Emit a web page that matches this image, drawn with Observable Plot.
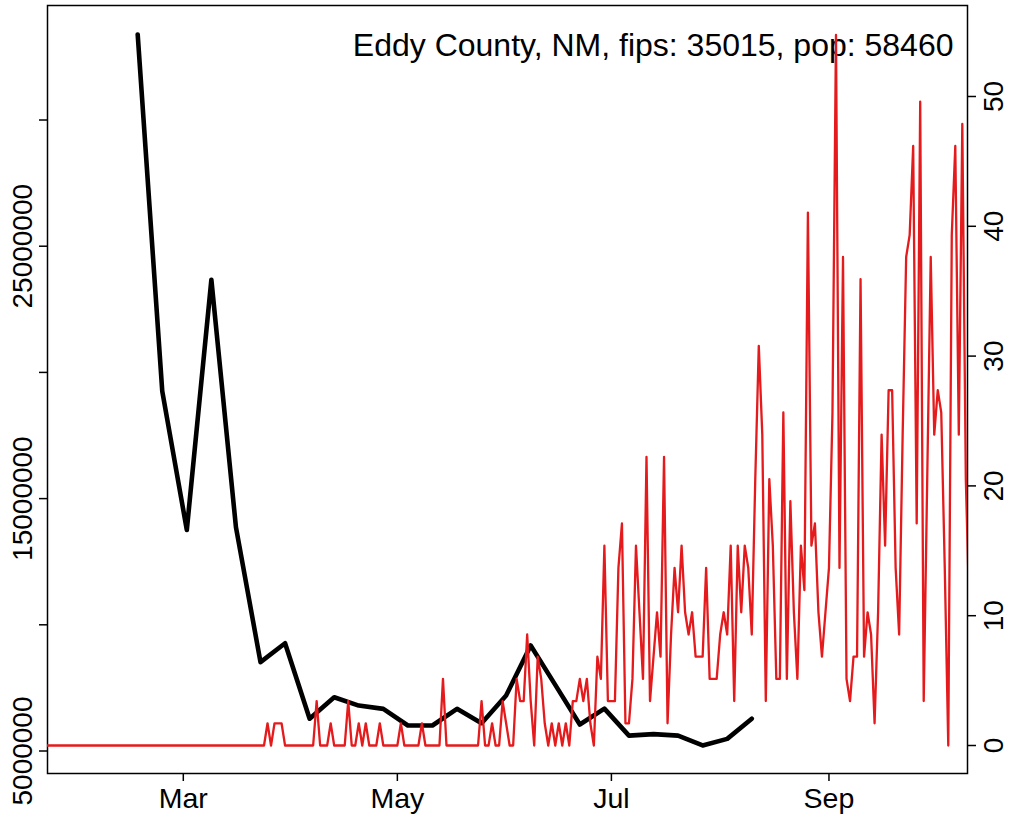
<!DOCTYPE html>
<html><head><meta charset="utf-8">
<script src="https://cdn.jsdelivr.net/npm/d3@7"></script>
<script src="https://cdn.jsdelivr.net/npm/@observablehq/plot@0.6"></script>
<style>
html,body{margin:0;padding:0;background:#fff;overflow:hidden;}
#chart{position:relative;width:1015px;height:822px;}
#chart svg{position:absolute;left:0;top:0;}
</style></head><body><div id="chart"></div>
<script>
// ---- data ----
const titleText = "Eddy County, NM, fips: 35015, pop: 58460";
const population = 58460;

const weekDates = ["2020-02-17","2020-02-24","2020-03-02","2020-03-09","2020-03-16","2020-03-23","2020-03-30",
  "2020-04-06","2020-04-13","2020-04-20","2020-04-27","2020-05-04","2020-05-11","2020-05-18","2020-05-25",
  "2020-06-01","2020-06-08","2020-06-15","2020-06-22","2020-06-29","2020-07-06","2020-07-13","2020-07-20",
  "2020-07-27","2020-08-03","2020-08-10"];
const weekValues = [33390000,19260000,13760000,23670000,13870000,8520000,9270000,6280000,7130000,6800000,
  6670000,6010000,6010000,6670000,6100000,7200000,9180000,7620000,6050000,6680000,5610000,5670000,5610000,
  5220000,5480000,6280000];

const dailyStart = "2020-01-22";
const dailyCases = [
  0,0,0,0,0,0,0,0,0,0, 0,0,0,0,0,0,0,0,0,0, 0,0,0,0,0,0,0,0,0,0,
  0,0,0,0,0,0,0,0,0,0, 0,0,0,0,0,0,0,0,0,0, 0,0,0,0,0,0,0,0,0,0,
  0,0,0,1,0,1,1,1,0,0, 0,0,0,0,0,0,0,2,0,0, 0,1,0,0,0,0,2,0,0,1,
  0,1,0,0,0,1,0,0,0,0, 0,1,0,0,0,0,0,1,0,0, 0,0,0,3,0,0,0,0,0,0,
  0,0,0,0,2,0,0,1,0,0, 2,1,0,0,3,2,2,5,2,0, 4,3,1,0,1,0,1,0,1,0,
  2,2,3,2,3,1,0,4,3,9, 2,2,2,8,10,1,1,3,9,6, 3,13,2,4,6,4,13,1,5,8,
  6,9,6,5,6,4,4,4,8,3, 3,3,5,6,5,9,2,9,6,9, 8,5,12,18,14,2,12,9,3,3,
  15,3,11,6,3,9,7,24,9,10, 6,4,6,8,15,32,8,22,3,2, 4,4,21,4,6,5,1,6,14,9,
  16,16,8,5,14,22,23,27,10,29, 2,12,22,14,16,15,8,0,23,27, 14,28,12,6
];

const xTickDates = ["2020-03-01","2020-05-01","2020-07-01","2020-09-01"];
const leftTicks = [5000000,10000000,15000000,20000000,25000000,30000000];
const leftLabels = [5000000,15000000,25000000];
const rightTicks = [0,10,20,30,40,50];

// ---- chart ----
const W = 1015, H = 822;
const margins = {marginLeft: 47, marginRight: 48, marginTop: 5, marginBottom: 49};
const font = "'Liberation Sans', Arial, Helvetica, sans-serif";
const xDomain = [new Date("2020-01-22T07:12:00Z"), new Date("2020-10-10T11:30:00Z")];
const utc = s => new Date(s + "T00:00:00Z");

const weekly = weekDates.map((d, i) => ({date: utc(d), value: weekValues[i]}));
const start = utc(dailyStart);
const daily = dailyCases.map((c, i) => ({date: d3.utcDay.offset(start, i), rate: c / population * 1e5}));

const base = Plot.plot({
  width: W, height: H, ...margins,
  style: {fontFamily: font, background: "white", color: "black"},
  x: {type: "utc", domain: xDomain},
  y: {domain: [4108600, 34537000]},
  marks: [
    Plot.frame({stroke: "black", strokeWidth: 1.5}),
    Plot.axisX({ticks: xTickDates.map(utc), tickFormat: d3.utcFormat("%b"), tickSize: 8, tickPadding: 6,
      fontSize: 28.5, strokeWidth: 1.5, label: null}),
    Plot.axisY({ticks: leftTicks, tickSize: 8, tickFormat: () => "", strokeWidth: 1.5, label: null}),
    Plot.text(leftLabels, {y: d => d, text: d => String(d), frameAnchor: "left", dx: -24, rotate: -90,
      fontSize: 28, textAnchor: "middle", lineAnchor: "middle", fill: "black"}),
    Plot.line(weekly, {x: "date", y: "value", stroke: "black", strokeWidth: 4.6,
      strokeLinejoin: "round", strokeLinecap: "round"}),
    Plot.text([titleText], {frameAnchor: "top-right", dx: -14, dy: 40, fontSize: 32,
      textAnchor: "end", lineAnchor: "middle", fill: "black"})
  ]
});

const over = Plot.plot({
  width: W, height: H, ...margins,
  style: {fontFamily: font, background: "transparent", color: "black"},
  x: {type: "utc", domain: xDomain, axis: null},
  y: {domain: [-2.157, 57.01]},
  marks: [
    Plot.axisY({anchor: "right", ticks: rightTicks, tickSize: 8, tickFormat: () => "", strokeWidth: 1.5, label: null}),
    Plot.text(rightTicks, {y: d => d, text: d => String(d), frameAnchor: "right", dx: 27, rotate: -90,
      fontSize: 28, textAnchor: "middle", lineAnchor: "middle", fill: "black"}),
    Plot.line(daily, {x: "date", y: "rate", stroke: "#E41A1C", strokeWidth: 2.3, clip: true,
      strokeLinejoin: "round"})
  ]
});

const el = document.getElementById("chart");
el.appendChild(base);
el.appendChild(over);
</script>
</body></html>
